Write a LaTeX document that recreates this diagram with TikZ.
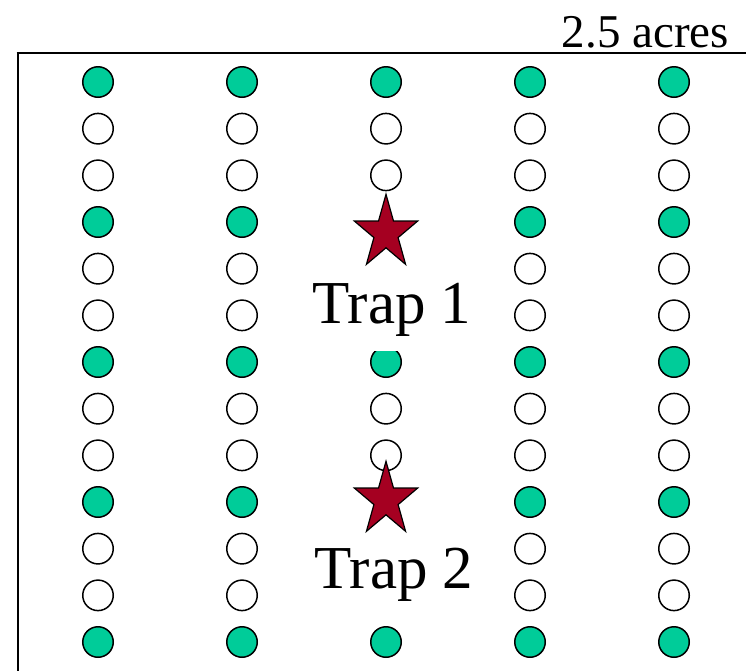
\documentclass[tikz,border=0pt]{standalone}
\usepackage{fontspec}
\setmainfont{Liberation Serif}
\newfontfamily\tms{Liberation Serif}
\definecolor{dotgreen}{RGB}{0,204,153}
\definecolor{starred}{RGB}{165,0,33}
\begin{document}
\begin{tikzpicture}[x=1pt,y=-1pt,
  dot/.style={circle,draw=black,line width=1.5pt,minimum size=30.5pt,inner sep=0pt},
  gdot/.style={dot,fill=dotgreen},
  wdot/.style={dot,fill=white},
  traplabel/.style={fill=white,anchor=base,inner xsep=2pt,inner ysep=0pt,text depth=28pt,font=\tms\fontsize{61}{70}\selectfont},
  starshape/.style={draw=black,line width=1.2pt,fill=starred,line join=miter}]
\useasboundingbox (0,0) rectangle (746,670);
\begin{scope}
\clip (0,0) rectangle (746,670);
\draw[line width=2.6pt] (18,53) -- (18,700) (16.7,53) -- (760,53);
\end{scope}
\node[anchor=base east,inner sep=0pt,font=\tms\fontsize{47}{56}\selectfont] (area) at (729,47) {2.5 acres};
% circles
\foreach \c/\xx in {1/98,2/242,3/386,4/530,5/674}{
  \foreach \r in {0,...,12}{
    \pgfmathsetmacro{\yy}{82+46.667*\r}
    \pgfmathtruncatemacro{\isg}{mod(\r,3)==0 ? 1 : 0}
    \pgfmathtruncatemacro{\skip}{(\c==3 && (\r==3 || \r==4 || \r==5 || \r==9 || \r==10 || \r==11)) ? 1 : 0}
    \ifnum\skip=0
      \ifnum\isg=1
        \node[gdot] (d-\c-\r) at (\xx,\yy) {};
      \else
        \node[wdot] (d-\c-\r) at (\xx,\yy) {};
      \fi
    \fi
  }
}
\node[traplabel] (trap1) at (392,323) {Trap 1};
\node[traplabel] (trap2) at (394,588) {Trap 2};
\foreach \cy/\nm in {233/s1,500/s2}{
  \begin{scope}[shift={(386,\cy)},xscale=0.86]
    \draw[starshape] (270:38.7) -- (306:14.8) -- (342:38.7) -- (18:14.8) -- (54:38.7) -- (90:14.8) -- (126:38.7) -- (162:14.8) -- (198:38.7) -- (234:14.8) -- cycle;
  \end{scope}
}
\end{tikzpicture}
\end{document}
